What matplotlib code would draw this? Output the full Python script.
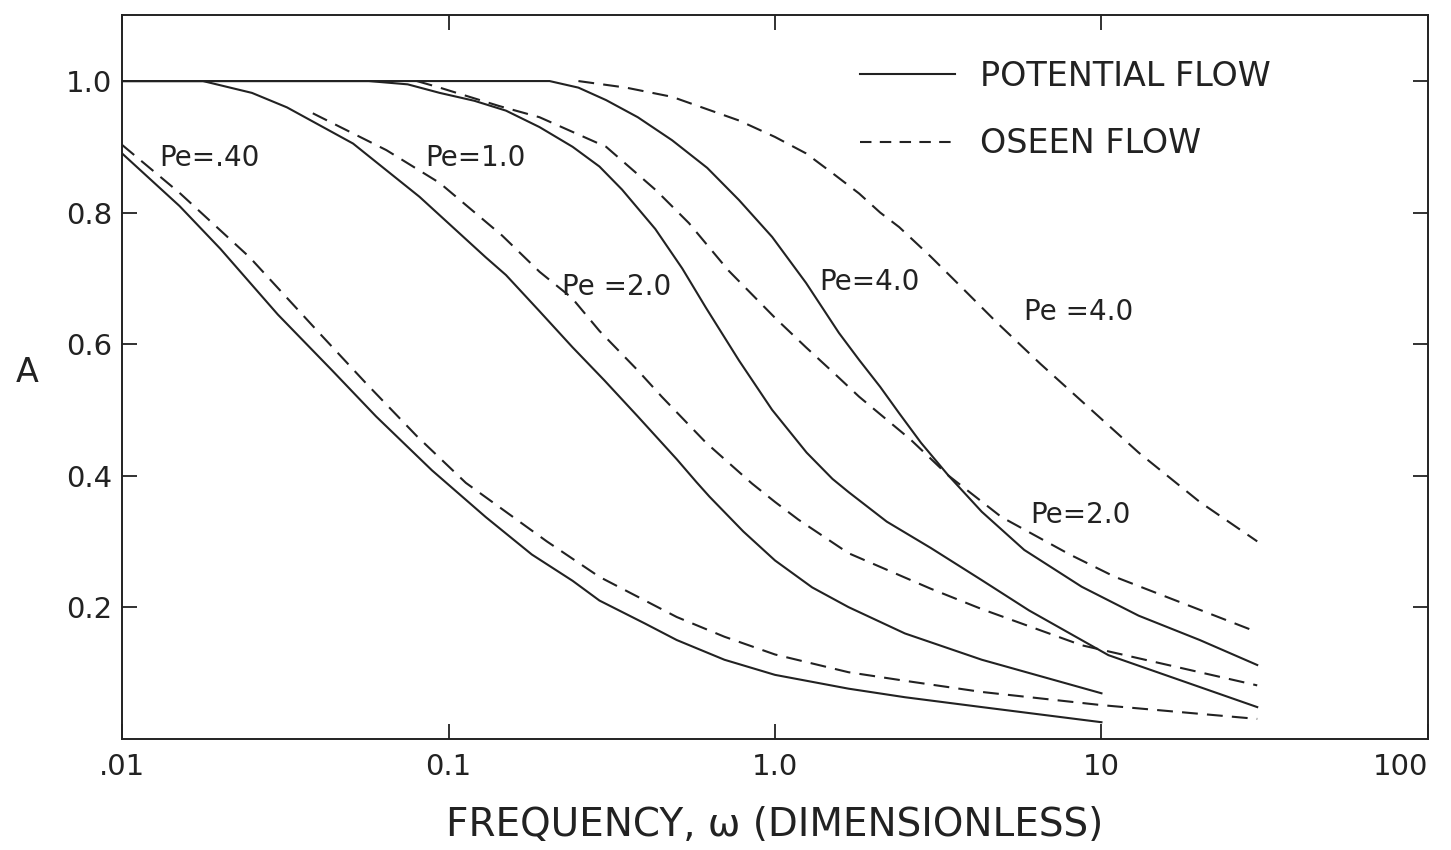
import matplotlib
matplotlib.use("Agg")
from matplotlib import pyplot as plt
from matplotlib.lines import Line2D

plt.rcParams['font.family'] = ['DejaVu Sans']

# potential flow (solid) curves: frequency w, amplitude A
pot_040_w = [0.01, 0.015, 0.02, 0.03, 0.044, 0.06, 0.089, 0.13, 0.18, 0.24, 0.29, 0.4, 0.5, 0.7,
             1.0, 1.68, 2.5, 4.3, 10.0]
pot_040_a = [0.89, 0.81, 0.745, 0.645, 0.56, 0.49, 0.408, 0.337, 0.28, 0.24, 0.21, 0.175, 0.15, 0.12,
             0.097, 0.076, 0.063, 0.048, 0.025]

pot_10_w = [0.01, 0.0177, 0.025, 0.032, 0.051, 0.0815, 0.13, 0.15, 0.19, 0.24, 0.30, 0.38, 0.5, 0.575,
            0.63, 0.8, 1.0, 1.3, 1.68, 2.5, 4.3, 10.0]
pot_10_a = [1.0, 1.0, 0.982, 0.96, 0.905, 0.824, 0.732, 0.705, 0.65, 0.595, 0.545, 0.49, 0.425, 0.39,
            0.368, 0.315, 0.271, 0.23, 0.20, 0.16, 0.12, 0.069]

pot_20_w = [0.01, 0.057, 0.075, 0.094, 0.12, 0.15, 0.19, 0.24, 0.29, 0.34, 0.43, 0.52, 0.615, 0.776,
            0.98, 1.25, 1.5, 1.68, 2.2, 3.0, 4.3, 6.0, 10.5, 30.0]
pot_20_a = [1.0, 1.0, 0.995, 0.982, 0.97, 0.955, 0.93, 0.90, 0.87, 0.835, 0.775, 0.715, 0.655, 0.575,
            0.50, 0.435, 0.395, 0.375, 0.33, 0.29, 0.241, 0.195, 0.127, 0.048]

pot_40_w = [0.01, 0.204, 0.25, 0.304, 0.38, 0.484, 0.62, 0.776, 0.98, 1.245, 1.57, 1.81, 2.1, 2.4,
            2.8, 3.4, 4.3, 5.8, 8.7, 13.0, 20.0, 30.0]
pot_40_a = [1.0, 1.0, 0.99, 0.971, 0.945, 0.91, 0.868, 0.819, 0.763, 0.693, 0.617, 0.576, 0.535, 0.495,
            0.45, 0.40, 0.345, 0.287, 0.231, 0.187, 0.15, 0.112]

# Oseen flow (dashed) curves
os_040_w = [0.01, 0.015, 0.0246, 0.04, 0.056, 0.08, 0.113, 0.2, 0.29, 0.5, 0.7, 1.0, 1.68, 2.5,
            4.3, 10.0, 30.0]
os_040_a = [0.903, 0.83, 0.732, 0.618, 0.54, 0.46, 0.389, 0.30, 0.246, 0.185, 0.155, 0.128, 0.101, 0.088,
            0.071, 0.051, 0.03]

os_10_w = [0.0384, 0.0645, 0.094, 0.146, 0.19, 0.239, 0.29, 0.38, 0.45, 0.615, 0.85, 1.0, 1.18, 1.68,
           3.0, 4.3, 8.7, 30.0]
os_10_a = [0.951, 0.895, 0.845, 0.765, 0.71, 0.67, 0.62, 0.56, 0.52, 0.45, 0.388, 0.36, 0.333, 0.282,
           0.228, 0.197, 0.142, 0.081]

os_20_w = [0.08, 0.094, 0.143, 0.19, 0.304, 0.432, 0.545, 0.72, 1.0, 1.245, 1.5, 1.81, 2.6, 3.4,
           4.94, 8.0, 11.0, 30.0]
os_20_a = [1.0, 0.99, 0.962, 0.945, 0.90, 0.834, 0.784, 0.712, 0.64, 0.595, 0.558, 0.52, 0.455, 0.40,
           0.337, 0.28, 0.246, 0.162]

os_40_w = [0.25, 0.35, 0.484, 0.776, 1.0, 1.245, 1.5, 1.81, 2.1, 2.4, 3.0, 3.5, 4.8, 6.5, 9.8, 13.0,
           20.0, 30.0]
os_40_a = [1.0, 0.99, 0.976, 0.94, 0.915, 0.89, 0.86, 0.829, 0.80, 0.778, 0.733, 0.70, 0.632, 0.57,
           0.49, 0.435, 0.36, 0.30]

# curve labels: text, w, A
label_text = ["Pe=.40", "Pe=1.0", "Pe =2.0", "Pe=4.0", "Pe =4.0", "Pe=2.0"]
label_w = [0.0185, 0.121, 0.327, 1.94, 8.5, 8.6]
label_a = [0.883, 0.883, 0.687, 0.694, 0.649, 0.34]

x_ticks = [0.01, 0.1, 1.0, 10.0, 100.0]
x_ticklabels = [".01", "0.1", "1.0", "10", "100"]
y_ticks = [0.2, 0.4, 0.6, 0.8, 1.0]
y_ticklabels = ["0.2", "0.4", "0.6", "0.8", "1.0"]

ink = '#222222'
lw = 1.5
dash = (7.6, 4.4)

fig = plt.figure(figsize=(14.51, 8.5), dpi=100)
ax = fig.add_axes([0.0841, 0.131, 0.9, 0.851])

for w, a in [(pot_040_w, pot_040_a), (pot_10_w, pot_10_a), (pot_20_w, pot_20_a), (pot_40_w, pot_40_a)]:
    ax.plot(w, a, color=ink, lw=lw, solid_joinstyle='round')
for w, a in [(os_040_w, os_040_a), (os_10_w, os_10_a), (os_20_w, os_20_a), (os_40_w, os_40_a)]:
    ax.plot(w, a, color=ink, lw=lw, dashes=dash)

for t, w, a in zip(label_text, label_w, label_a):
    ax.text(w, a, t, fontsize=20, color=ink, ha='center', va='center')

ax.set_xscale('log')
ax.set_xlim(0.01, 100)
ax.set_ylim(0, 1.1)
ax.set_xticks(x_ticks)
ax.set_xticklabels(x_ticklabels)
ax.get_xticklabels()[-1].set_horizontalalignment('right')
ax.minorticks_off()
ax.set_yticks(y_ticks)
ax.set_yticklabels(y_ticklabels)
ax.tick_params(direction='in', length=11, width=1.3, top=True, right=True,
               labelsize=21, colors=ink)
ax.tick_params(axis='x', pad=10)
ax.tick_params(axis='y', pad=7)
for s in ax.spines.values():
    s.set_linewidth(1.4)
    s.set_color(ink)

ax.set_xlabel("FREQUENCY, ω (DIMENSIONLESS)", fontsize=28, color=ink, labelpad=18)
fig.text(0.019, 0.562, "A", fontsize=24, color=ink, ha='center', va='center')

handles = [Line2D([], [], color=ink, lw=lw),
           Line2D([], [], color=ink, lw=lw, dashes=(5.5, 4))]
ax.legend(handles, ["POTENTIAL FLOW", "OSEEN FLOW"], loc='upper left',
          bbox_to_anchor=(0.565, 0.938), frameon=False, fontsize=24,
          handlelength=2.85, handletextpad=0.75, labelspacing=1.03,
          borderpad=0, borderaxespad=0, labelcolor=ink)

fig.savefig("out.png", dpi=100)
